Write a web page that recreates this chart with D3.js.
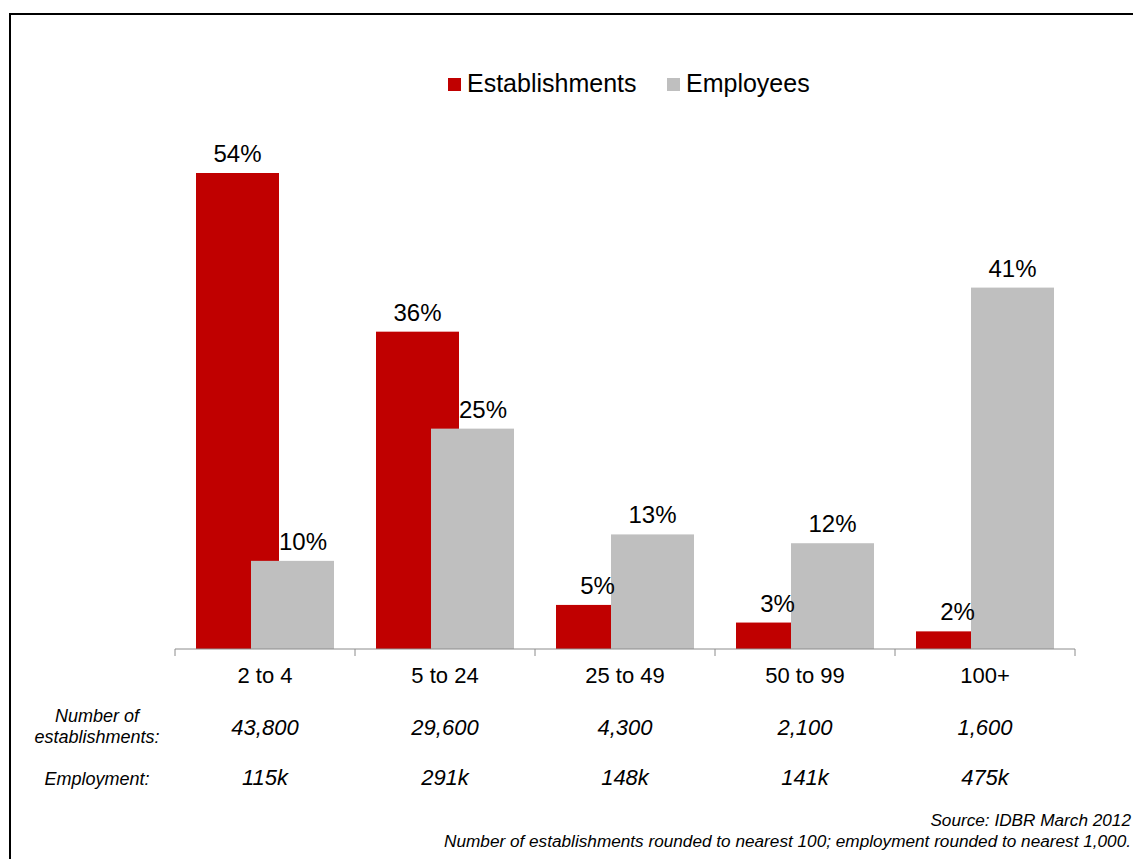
<!DOCTYPE html>
<html>
<head>
<meta charset="utf-8">
<script src="https://cdn.jsdelivr.net/npm/d3@7"></script>
<style>
  body { margin: 0; background: #fff; }
  svg { display: block; font-family: Arial, "Liberation Sans", sans-serif; }
</style>
</head>
<body>
<script>
// chart data
const categories = ["2 to 4", "5 to 24", "25 to 49", "50 to 99", "100+"];
const series = ["Establishments", "Employees"];
const establishmentsPct = [54, 36, 5, 3, 2];
const employeesPct = [10, 25, 13, 12, 41];
const establishmentCounts = ["43,800", "29,600", "4,300", "2,100", "1,600"];
const employmentCounts = ["115k", "291k", "148k", "141k", "475k"];
const colors = ["#C00000", "#BFBFBF"];

(function(){
  const WIDTH = 1133, HEIGHT = 859;
  const svg = d3.select("body").append("svg")
    .attr("width", WIDTH).attr("height", HEIGHT);

  // frame (only top and left edges are visible in the shot)
  svg.append("rect")
    .attr("x", 10).attr("y", 14)
    .attr("width", 1300).attr("height", 1000)
    .attr("fill", "none").attr("stroke", "#000").attr("stroke-width", 2);

  const x = d3.scaleBand().domain(categories).range([175, 1075]);
  const y = d3.scaleLinear().domain([0, 54]).range([649, 173]);
  const barW = 83;
  const offset = d3.scaleOrdinal().domain(series).range([21, 76]);
  const color = d3.scaleOrdinal().domain(series).range(colors);

  const rows = categories.map((c, i) => ({
    cat: c,
    vals: [
      {s: series[0], v: establishmentsPct[i]},
      {s: series[1], v: employeesPct[i]}
    ]
  }));

  // bars: establishments first, employees drawn over them
  series.forEach((s, si) => {
    svg.append("g").selectAll("rect")
      .data(rows)
      .enter().append("rect")
      .attr("x", d => x(d.cat) + offset(s))
      .attr("y", d => y(d.vals[si].v))
      .attr("width", barW)
      .attr("height", d => y(0) - y(d.vals[si].v))
      .attr("fill", color(s));
  });

  // axis
  const axis = svg.append("g")
    .attr("transform", "translate(0," + y(0) + ")");
  axis.append("line")
    .attr("x1", 175).attr("x2", 1075)
    .attr("stroke", "#8c8c8c").attr("stroke-width", 1);
  axis.selectAll("line.tick")
    .data(categories.concat(["end"]))
    .enter().append("line")
    .attr("class", "tick")
    .attr("x1", (d, i) => i < categories.length ? x(d) : x.range()[1])
    .attr("x2", (d, i) => i < categories.length ? x(d) : x.range()[1])
    .attr("y1", 0).attr("y2", 7)
    .attr("stroke", "#8c8c8c");
  axis.selectAll("text")
    .data(categories)
    .enter().append("text")
    .attr("x", d => x(d) + x.bandwidth() / 2)
    .attr("y", 34)
    .attr("text-anchor", "middle")
    .attr("font-size", 22)
    .attr("fill", "#000")
    .text(d => d);

  // data labels
  const lab = svg.append("g").attr("font-size", 24).attr("fill", "#000");
  rows.forEach(d => {
    const redRight = x(d.cat) + offset(series[0]) + barW;
    lab.append("text")
      .attr("x", x(d.cat) + offset(series[0]) + barW / 2)
      .attr("y", y(d.vals[0].v) - 11)
      .attr("text-anchor", "middle")
      .text(d.vals[0].v + "%");
    const gx = x(d.cat) + offset(series[1]) + barW / 2;
    const gy = y(d.vals[1].v) - 11;
    const t1 = lab.append("text")
      .attr("x", gx).attr("y", gy)
      .attr("text-anchor", "middle")
      .text(d.vals[1].v + "%");
    // nudge employee label right if it would sit on the taller red bar
    if (y(d.vals[0].v) < gy) {
      const bb = t1.node().getBBox();
      if (bb.x < redRight) t1.attr("x", gx + (redRight - bb.x));
    }
  });

  // legend
  const leg = svg.append("g").attr("font-size", 25);
  const legX = [448, 667];
  series.forEach((s, i) => {
    leg.append("rect")
      .attr("x", legX[i]).attr("y", 78)
      .attr("width", 13).attr("height", 13)
      .attr("fill", color(s));
    leg.append("text")
      .attr("x", legX[i] + 19).attr("y", 92)
      .text(s);
  });

  // table under the axis
  const tbl = svg.append("g")
    .attr("font-size", 18).attr("font-style", "italic")
    .attr("text-anchor", "middle").attr("fill", "#000");
  tbl.append("text").attr("x", 97).attr("y", 722).text("Number of");
  tbl.append("text").attr("x", 97).attr("y", 743).text("establishments:");
  tbl.append("text").attr("x", 97).attr("y", 785).text("Employment:");
  tbl.selectAll("text.est")
    .data(establishmentCounts)
    .enter().append("text")
    .attr("class", "est")
    .attr("font-size", 22)
    .attr("x", (d, i) => x(categories[i]) + x.bandwidth() / 2)
    .attr("y", 735)
    .text(d => d);
  tbl.selectAll("text.emp")
    .data(employmentCounts)
    .enter().append("text")
    .attr("class", "emp")
    .attr("font-size", 22)
    .attr("x", (d, i) => x(categories[i]) + x.bandwidth() / 2)
    .attr("y", 785)
    .text(d => d);

  // source notes
  const notes = svg.append("g")
    .attr("font-size", 17.2).attr("font-style", "italic")
    .attr("text-anchor", "end").attr("fill", "#000");
  notes.append("text").attr("x", 1131).attr("y", 826)
    .text("Source: IDBR March 2012");
  notes.append("text").attr("x", 1131).attr("y", 847)
    .text("Number of establishments rounded to nearest 100; employment rounded to nearest 1,000.");
})();
</script>
</body>
</html>
